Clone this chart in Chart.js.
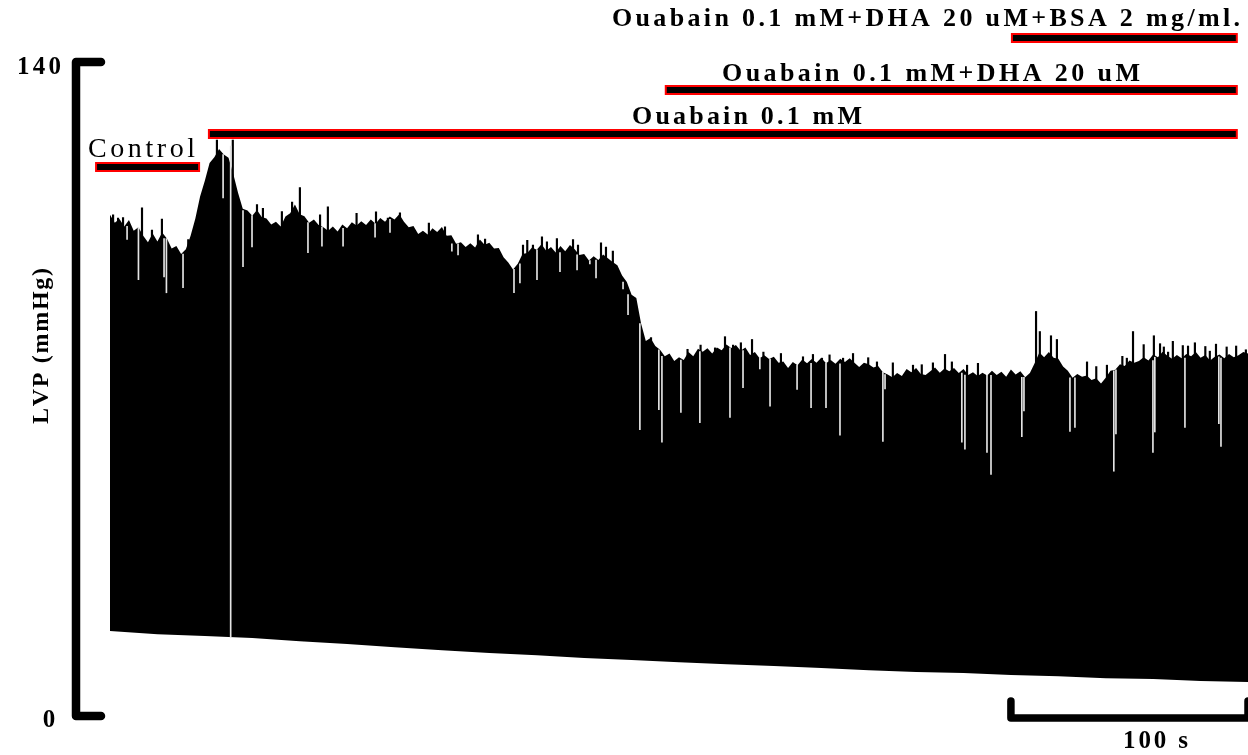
<!DOCTYPE html>
<html>
<head>
<meta charset="utf-8">
<title>LVP trace</title>
<script src="https://cdn.jsdelivr.net/npm/chart.js@4.4.1/dist/chart.umd.min.js"></script>
<style>
  html, body { margin: 0; padding: 0; background: #fff; }
  #wrap { width: 1248px; height: 755px; position: relative; }
</style>
</head>
<body>
<div id="wrap"><canvas id="lvp" width="1248" height="755"></canvas></div>
<script>
// ---- Recording data -------------------------------------------------------
// Time axis of the recording, seconds
const timeMax = 480;
const sampleStep = 2;              // systolic envelope sampled every 2 s

// Systolic (peak) LVP envelope, mmHg, one value per 2 s from t = 0
const systolic = [
  107.3, 105.6, 106.4, 104.8, 106.2, 103.9, 104.6, 102.8, 101.4, 103.3,
  101.6, 103.5, 102.2, 100.1, 100.6,  98.9,  99.9, 102.8, 106.5, 111.2,
  114.6, 118.4, 119.6, 121.4, 120.2, 119.5, 116.0, 112.0, 108.6, 108.2,
  107.1, 108.3, 106.8, 106.5, 105.2, 105.8, 104.8, 106.9, 107.6, 109.5,
  107.4, 107.0, 105.6, 106.3, 105.1, 104.6, 103.9, 104.8, 103.7, 105.2,
  104.4, 105.7, 105.0, 105.9, 105.1, 106.3, 105.4, 106.6, 105.8, 106.9,
  106.3, 107.4, 105.8, 104.6, 104.9, 103.2, 103.9, 103.1, 104.4, 103.6,
  104.7, 102.8, 102.9, 101.1, 101.4, 100.4, 101.2, 100.3, 102.0, 100.9,
  101.3, 100.1, 100.2,  98.2,  97.1,  95.6,  96.8,  98.9,  99.1, 100.3,
   99.8, 101.0,  99.6, 100.4,  99.2, 100.6,  99.5, 100.8,  99.9,  98.7,
   98.9,  97.5,  98.4,  97.6,  98.8,  98.0,  97.2,  96.5,  94.3,  92.9,
   90.2,  89.5,  84.0,  80.3,  80.9,  79.2,  78.4,  77.0,  77.6,  76.0,
   76.8,  76.2,  77.9,  77.0,  78.6,  78.0,  78.7,  77.6,  78.9,  78.3,
   79.5,  78.8,  79.4,  78.2,  78.9,  77.3,  77.9,  76.6,  77.2,  76.4,
   76.9,  75.6,  75.9,  74.5,  75.8,  75.1,  76.3,  75.5,  76.4,  75.6,
   76.7,  75.5,  76.2,  75.4,  76.5,  75.8,  76.6,  75.6,  74.7,  75.6,
   75.3,  74.6,  74.9,  73.6,  73.1,  72.5,  73.4,  72.8,  74.3,  73.6,
   74.5,  73.2,  73.0,  73.8,  74.6,  73.5,  74.4,  73.8,  74.5,  73.4,
   74.3,  73.0,  73.6,  72.8,  73.5,  72.9,  73.9,  73.0,  73.7,  72.6,
   74.2,  73.1,  73.8,  72.5,  73.4,  75.5,  77.8,  76.8,  77.9,  76.7,
   76.5,  74.8,  73.9,  72.4,  73.2,  72.6,  72.9,  71.9,  72.3,  71.2,
   72.4,  73.9,  74.1,  75.3,  74.9,  76.1,  75.6,  76.0,  76.8,  76.1,
   77.4,  76.8,  78.0,  77.1,  76.5,  77.3,  76.6,  77.5,  77.0,  77.9,
   76.7,  77.3,  76.1,  76.9,  77.4,  76.6,  77.5,  76.8,  77.2,  77.9,
   77.6
];

// Diastolic (trough) LVP, mmHg, sampled every 20 s
const diastolicTime = [0, 20, 40, 60, 80, 100, 120, 140, 160, 180, 200, 220, 240,
                       260, 280, 300, 320, 340, 360, 380, 400, 420, 440, 460, 480];
const diastolic = [18.2, 17.5, 17.1, 16.7, 16.0, 15.4, 14.7, 14.1, 13.5, 13.0, 12.4, 12.0, 11.5,
                   11.1, 10.7, 10.3, 9.8, 9.4, 9.2, 8.8, 8.5, 8.1, 7.9, 7.5, 7.3];

// Tall single beats rising above the envelope: time (s), peak (mmHg)
const peakBeatTime = [1.3, 3.4, 5.5, 13.5, 17.7, 21.9, 33.0, 45.1, 51.8, 62.0,
                      64.5, 72.5, 76.8, 80.1, 88.6, 91.9, 104.0, 112.2, 117.2, 122.3,
                      134.5, 141.3, 155.2, 158.2, 174.2, 176.0, 178.4, 182.2, 184.3, 188.5,
                      195.3, 197.4, 207.1, 209.2, 212.1, 228.2, 243.6, 249.1, 255.2, 259.4,
                      262.8, 266.1, 270.8, 275.6, 283.0, 292.3, 296.5, 300.3, 303.5, 309.2,
                      313.4, 319.8, 323.5, 330.2, 338.7, 342.4, 347.1, 352.2, 355.1, 361.5,
                      366.1, 390.6, 392.2, 396.9, 399.4, 412.1, 416.0, 420.5, 427.0, 428.9,
                      431.5, 436.0, 440.3, 442.9, 444.5, 446.3, 448.3, 452.5, 454.7, 457.6,
                      462.0, 463.9, 466.5, 471.0, 475.0, 479.1];
const peakBeatValue = [107.3, 106.6, 106.7, 108.8, 104.0, 106.4, 102.0, 123.3, 123.3, 109.5,
                       108.7, 108.0, 110.0, 113.1, 107.3, 109.0, 107.6, 107.9, 106.6, 107.7,
                       105.5, 104.7, 103.0, 102.1, 100.8, 101.8, 100.8, 102.6, 101.5, 102.2,
                       102.0, 100.8, 101.3, 100.4, 99.5, 81.0, 78.5, 79.4, 78.8, 81.2,
                       79.4, 79.9, 80.6, 77.9, 77.6, 76.9, 77.4, 76.6, 77.3, 76.6,
                       77.6, 76.7, 75.8, 75.6, 75.1, 75.2, 75.6, 77.4, 75.8, 75.1,
                       75.5, 86.6, 82.3, 81.4, 80.6, 75.8, 74.8, 75.1, 77.0, 76.6,
                       82.3, 79.5, 81.4, 79.7, 79.0, 77.9, 80.2, 79.3, 79.2, 79.9,
                       79.1, 78.1, 79.6, 79.0, 79.2, 78.4];

// Weak beats falling below the envelope: time (s), peak (mmHg)
const weakBeatTime = [7.2, 12.0, 22.8, 23.8, 30.8, 47.7, 50.9, 56.1, 59.9, 83.5,
                      89.4, 98.3, 111.8, 118.1, 144.2, 146.8, 170.4, 172.9, 180.1, 189.8,
                      197.0, 202.4, 205.0, 216.4, 218.5, 223.5, 231.5, 232.8, 240.8, 248.8,
                      261.5, 267.0, 274.1, 278.4, 289.8, 295.7, 302.0, 307.9, 326.0, 326.9,
                      359.3, 360.6, 369.9, 371.6, 384.6, 385.5, 404.9, 407.0, 423.4, 424.3,
                      439.9, 440.7, 453.4, 467.7, 468.6];
const weakBeatValue = [102.0, 93.4, 94.0, 90.6, 91.7, 110.9, 16.9, 96.2, 100.4, 99.2,
                       100.6, 100.6, 102.5, 103.5, 99.5, 98.7, 90.6, 92.7, 93.4, 95.1,
                       95.5, 96.8, 93.8, 91.4, 85.9, 61.3, 65.6, 58.6, 65.0, 62.8,
                       63.9, 70.3, 74.3, 66.3, 69.9, 66.0, 66.0, 60.1, 58.8, 70.0,
                       58.6, 57.1, 56.4, 51.7, 59.8, 65.3, 60.9, 61.8, 52.4, 60.4,
                       56.4, 60.8, 61.8, 62.6, 57.7];

// Perfusion protocol: label, start and end time (s)
const phaseLabels = ['Control', 'Ouabain 0.1 mM', 'Ouabain 0.1 mM+DHA 20 uM',
                     'Ouabain 0.1 mM+DHA 20 uM+BSA 2 mg/ml.'];
const phaseStart = [-6.3, 41.3, 234.0, 380.0];
const phaseEnd   = [38.0, 475.7, 475.7, 475.7];

// Axis and scale-bar labels
const yTickLabels = ['0', '140'];
const yTickValues = [0, 140];
const yTitle = 'LVP (mmHg)';
const scaleBarSeconds = 100;
const scaleBarLabel = '100 s';

// ---- Build Chart.js series -----------------------------------------------
const systolicPoints = systolic.map((v, i) => ({ x: i * sampleStep, y: v }));
const diastolicPoints = diastolic.map((v, i) => ({ x: diastolicTime[i], y: v }));
const BEAT_BASE = 40;   // bars start inside the filled trace
const peakBars = peakBeatTime.map((t, i) => ({ x: t, y: [BEAT_BASE, peakBeatValue[i]] }));
// a weak beat spans from its own peak up to the surrounding envelope
const envelopeAt = t => Math.min(systolic[Math.floor(t / sampleStep)],
                                 systolic[Math.min(systolic.length - 1, Math.ceil(t / sampleStep))]);
const weakBars = weakBeatTime.map((t, i) => ({ x: t, y: [weakBeatValue[i], envelopeAt(t)] }));
// the gap at t = 50.9 s cuts through the tall beats beside it
weakBars[6].y[1] = 122;

// ---- Helpers ---------------------------------------------------------------
// Draw text with even extra spacing so it fills [left, right]
function drawSpaced(ctx, text, left, right, baseline) {
  const chars = [...text];
  const widths = chars.map(c => ctx.measureText(c).width);
  const total = widths.reduce((a, b) => a + b, 0);
  const gap = chars.length > 1 ? (right - left - total) / (chars.length - 1) : 0;
  let x = left;
  chars.forEach((c, i) => { ctx.fillText(c, x, baseline); x += widths[i] + gap; });
}

const SERIF = '"Liberation Serif", "DejaVu Serif", serif';

// Axis bracket, protocol bars, labels and time scale bar
const decorations = {
  id: 'decorations',
  afterDraw(chart) {
    const { ctx, scales: { x, y } } = chart;
    ctx.save();
    ctx.fillStyle = '#000';
    ctx.textBaseline = 'alphabetic';

    // Y axis bracket
    const yTop = y.getPixelForValue(yTickValues[1]);
    const yBot = y.getPixelForValue(yTickValues[0]);
    ctx.strokeStyle = '#000';
    ctx.lineWidth = 8.5;
    ctx.lineCap = 'round';
    ctx.lineJoin = 'round';
    ctx.beginPath();
    ctx.moveTo(101, yTop);
    ctx.lineTo(76, yTop);
    ctx.lineTo(76, yBot);
    ctx.lineTo(101, yBot);
    ctx.stroke();

    // Tick labels
    ctx.font = 'bold 25px ' + SERIF;
    drawSpaced(ctx, yTickLabels[1], 17, 61, yTop + 12);
    ctx.textAlign = 'center';
    ctx.fillText(yTickLabels[0], 49, yBot + 11);
    ctx.textAlign = 'left';

    // Y title, rotated
    ctx.save();
    ctx.translate(48, 346);
    ctx.rotate(-Math.PI / 2);
    ctx.font = 'bold 24px ' + SERIF;
    drawSpaced(ctx, yTitle, -78, 78, 0);
    ctx.restore();

    // Protocol bars: red outline, black core
    const rowY = [167, 134, 90, 38];
    phaseLabels.forEach((lab, i) => {
      const x0 = x.getPixelForValue(phaseStart[i]);
      const x1 = x.getPixelForValue(phaseEnd[i]);
      ctx.fillStyle = '#ff0000';
      ctx.fillRect(x0, rowY[i] - 5, x1 - x0, 10);
      ctx.fillStyle = '#000';
      ctx.fillRect(x0 + 2, rowY[i] - 3, x1 - x0 - 4, 6);
    });

    // Protocol labels
    ctx.fillStyle = '#000';
    const labelBox = [
      { l: 88,  r: 195,  b: 157, font: '28px ' + SERIF },
      { l: 632, r: 862,  b: 124, font: 'bold 26px ' + SERIF },
      { l: 722, r: 1140, b: 81,  font: 'bold 26px ' + SERIF },
      { l: 612, r: 1240, b: 26,  font: 'bold 26px ' + SERIF }
    ];
    phaseLabels.forEach((lab, i) => {
      ctx.font = labelBox[i].font;
      drawSpaced(ctx, lab, labelBox[i].l, labelBox[i].r, labelBox[i].b);
    });

    // Time scale bar
    const sx1 = x.getPixelForValue(timeMax);
    const sx0 = x.getPixelForValue(timeMax - scaleBarSeconds);
    ctx.lineWidth = 7.5;
    ctx.beginPath();
    ctx.moveTo(sx0, 701);
    ctx.lineTo(sx0, 718);
    ctx.lineTo(sx1, 718);
    ctx.lineTo(sx1, 701);
    ctx.stroke();
    ctx.font = 'bold 25px ' + SERIF;
    drawSpaced(ctx, scaleBarLabel, 1123, 1188, 748);

    ctx.restore();
  }
};

new Chart(document.getElementById('lvp'), {
  type: 'line',
  data: {
    datasets: [
      {
        label: 'LVP systolic',
        data: systolicPoints,
        borderWidth: 0,
        pointRadius: 0,
        tension: 0,
        fill: 'origin',
        backgroundColor: '#000',
        order: 4
      },
      {
        label: 'LVP diastolic',
        data: diastolicPoints,
        borderWidth: 0,
        pointRadius: 0,
        tension: 0,
        fill: 'origin',
        backgroundColor: '#fff',
        order: 3
      },
      {
        type: 'bar',
        label: 'tall beats',
        data: peakBars,
        backgroundColor: '#000',
        barThickness: 1.5,
        grouped: false,
        order: 2
      },
      {
        type: 'bar',
        label: 'weak beats',
        data: weakBars,
        backgroundColor: '#e4e4e4',
        barThickness: 1,
        grouped: false,
        order: 1
      }
    ]
  },
  options: {
    responsive: false,
    animation: false,
    devicePixelRatio: 1,
    layout: { padding: { left: 110, right: 0, top: 62, bottom: 39 } },
    scales: {
      x: { type: 'linear', min: 0, max: timeMax, offset: false, display: false },
      y: { type: 'linear', min: 0, max: 140, display: false }
    },
    plugins: {
      legend: { display: false },
      tooltip: { enabled: false }
    }
  },
  plugins: [decorations]
});
</script>
</body>
</html>
